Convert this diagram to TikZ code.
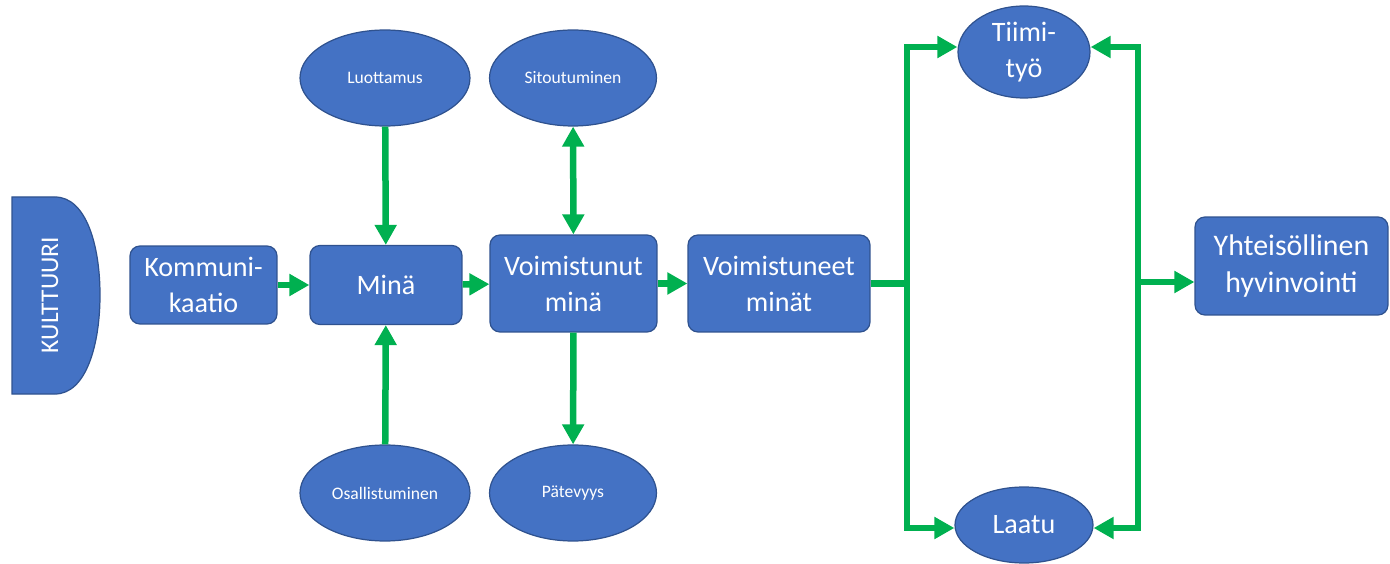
\documentclass[tikz,border=0pt]{standalone}
\usepackage{fontspec}
\setmainfont{Carlito}
\usetikzlibrary{arrows.meta,shapes.geometric}
\definecolor{boxblue}{RGB}{68,114,196}
\definecolor{edgeblue}{RGB}{47,82,143}
\definecolor{arrowgreen}{RGB}{0,176,80}
\begin{document}
\begin{tikzpicture}[x=0.02cm,y=-0.02cm,
  box/.style={draw=edgeblue,line width=0.7pt,fill=boxblue,rounded corners=0.2cm,text=white,align=center,font=\fontsize{16}{20.5}\selectfont,inner sep=2pt},
  oval/.style={ellipse,draw=edgeblue,line width=0.7pt,fill=boxblue,text=white,align=center,font=\fontsize{10}{12}\selectfont,inner sep=0pt},
  link/.style={draw=arrowgreen,line width=3.7pt,line join=miter},
  tip/.style={-{Triangle[length=0.4cm,width=0.42cm]}}]
\useasboundingbox (0,0) rectangle (1390,564);
\draw[draw=edgeblue,line width=0.7pt,fill=boxblue] (12,197) -- (55,197) .. controls (86,197) and (100,245) .. (100,295) .. controls (100,345) and (86,394) .. (55,394) -- (12,394) -- cycle;
\node (kult) at (50,295) [rotate=90,text=white,font=\fontsize{14.5}{16}\selectfont] {KULTTUURI};
\node (komm) at (203.5,285) [box,minimum width=2.94cm,minimum height=1.56cm] {Kommuni-\\kaatio};
\node (mina) at (386,285) [box,minimum width=3.04cm,minimum height=1.58cm] {Minä};
\node (voim) at (573.5,283.5) [box,minimum width=3.34cm,minimum height=1.94cm] {Voimistunut\\minä};
\node (voimt) at (779,283.5) [box,minimum width=3.64cm,minimum height=1.94cm] {Voimistuneet\\minät};
\node (yht) at (1291.5,266) [box,font=\fontsize{17}{21.5}\selectfont,minimum width=3.86cm,minimum height=1.96cm] {Yhteisöllinen\\hyvinvointi};
\node (luot) at (385,78) [oval,minimum width=3.4cm,minimum height=1.92cm] {Luottamus};
\node (sito) at (573,78) [oval,minimum width=3.34cm,minimum height=1.92cm] {Sitoutuminen};
\node (osal) at (385,493) [oval,minimum width=3.4cm,minimum height=1.92cm] {Osallistuminen};
\node (pate) at (573,493) [oval,minimum width=3.34cm,minimum height=1.92cm] {Pätevyys};
\node (tiimi) at (1024,52) [oval,font=\fontsize{16}{20.5}\selectfont,minimum width=2.64cm,minimum height=1.84cm] {Tiimi-\\työ};
\node (laatu) at (1024,525) [oval,font=\fontsize{16}{20.5}\selectfont,minimum width=2.76cm,minimum height=1.52cm] {Laatu};
\coordinate (lt) at (907,47);
\coordinate (lb) at (907,528);
\coordinate (rt) at (1138,47);
\coordinate (rb) at (1138,528);
\coordinate (rm) at (1138,282);
\draw[link,tip] (komm) -- (mina);
\draw[link,tip] (mina) -- (voim);
\draw[link,tip] (voim) -- (voimt);
\draw[link,tip] (luot) -- (mina);
\draw[link,tip] (osal) -- (mina);
\draw[link,tip] (voim) -- (pate);
\draw[link,{Triangle[length=0.4cm,width=0.42cm]}-{Triangle[length=0.4cm,width=0.42cm]}] (sito) -- (voim);
\draw[link] (voimt.east) -- (voimt.east -| lt);
\draw[link,{Triangle[length=0.4cm,width=0.42cm]}-{Triangle[length=0.4cm,width=0.42cm]}] (tiimi.west |- lt) -- (lt) -- (lb) -- (laatu.west |- lb);
\draw[link,{Triangle[length=0.4cm,width=0.42cm]}-{Triangle[length=0.4cm,width=0.42cm]}] (tiimi.east |- rt) -- (rt) -- (rb) -- (laatu.east |- rb);
\draw[link,tip] (rm) -- (rm -| yht.west);
\end{tikzpicture}
\end{document}
